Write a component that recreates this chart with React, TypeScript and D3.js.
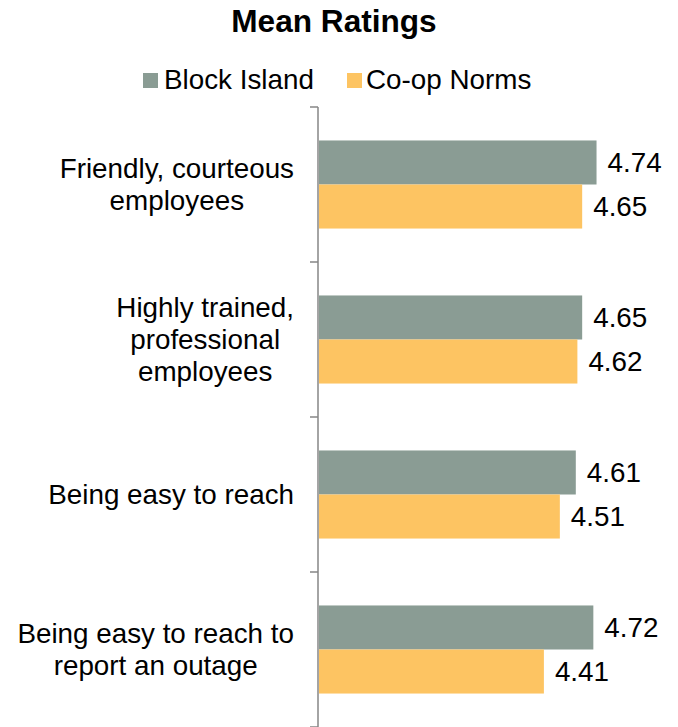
import React from "react";
import * as d3 from "d3";

const title = "Mean Ratings";
const categories = [
  "Friendly, courteous\nemployees",
  "Highly trained,\nprofessional\nemployees",
  "Being easy to reach",
  "Being easy to reach to\nreport an outage",
];
const seriesNames = ["Block Island", "Co-op Norms"];
const blockIsland = [4.74, 4.65, 4.61, 4.72];
const coopNorms = [4.65, 4.62, 4.51, 4.41];
const seriesColors = ["#8A9C94", "#FDC462"];

const W = 678;
const H = 727;
const FONT = "'Liberation Sans', Arial, sans-serif";
const FS = 27.8;

function measure(text: string, font: string): number {
  const c = document.createElement("canvas");
  const ctx = c.getContext("2d");
  if (!ctx) return text.length * FS * 0.5;
  ctx.font = font;
  return ctx.measureText(text).width;
}

export default function App() {
  const axisX = 318;
  const x = d3.scaleLinear().domain([3, 5]).range([319, 638]);
  const y = d3.scaleBand<string>().domain(categories).range([107, 727]).padding(0);
  const inner = d3
    .scaleBand<string>()
    .domain(seriesNames)
    .range([0, y.bandwidth()])
    .paddingInner(0)
    .paddingOuter(0.76);
  const values = [blockIsland, coopNorms];
  const ticks = d3.range(categories.length + 1).map((i) => 107 + i * y.step());
  const labelRight = 294;
  const lineH = 31.8;

  return (
    <svg
      width={W}
      height={H}
      style={{ position: "absolute", left: 0, top: 0, background: "#fff" }}
      fontFamily={FONT}
    >
      <text x={334} y={32} textAnchor="middle" fontSize={31.6} fontWeight="bold" fill="#000">
        {title}
      </text>
      {/* legend */}
      <rect x={143} y={73} width={15} height={15} fill={seriesColors[0]} />
      <text x={164} y={89} fontSize={FS} fill="#000">
        {seriesNames[0]}
      </text>
      <rect x={347} y={73} width={15} height={15} fill={seriesColors[1]} />
      <text x={366} y={89} fontSize={FS} fill="#000">
        {seriesNames[1]}
      </text>

      {/* bars */}
      {categories.map((cat, ci) =>
        seriesNames.map((s, si) => {
          const v = values[si][ci];
          const y0 = (y(cat) as number) + (inner(s) as number);
          const bw = inner.bandwidth();
          return (
            <g key={cat + s}>
              <rect
                x={x(3)}
                y={y0}
                width={x(v) - x(3)}
                height={bw}
                fill={seriesColors[si]}
              />
              <text x={x(v) + 11} y={y0 + bw / 2 + FS * 0.35} fontSize={FS} fill="#000">
                {v.toFixed(2)}
              </text>
            </g>
          );
        })
      )}

      {/* axis */}
      <line x1={axisX} x2={axisX} y1={107} y2={H} stroke="#868686" strokeWidth={1.5} />
      {ticks.map((t) => (
        <line key={t} x1={axisX - 8} x2={axisX} y1={t} y2={t} stroke="#868686" strokeWidth={1.5} />
      ))}

      {/* category labels */}
      {categories.map((cat) => {
        const lines = cat.split("\n");
        const font = `${FS}px ${FONT}`;
        const maxW = Math.max(...lines.map((l) => measure(l, font)));
        const cx = labelRight - maxW / 2;
        const center = (y(cat) as number) + y.bandwidth() / 2;
        const firstBaseline = center - ((lines.length - 1) * lineH) / 2 + FS * 0.35;
        return (
          <text key={cat} textAnchor="middle" fontSize={FS} fill="#000">
            {lines.map((l, i) => (
              <tspan key={i} x={cx} y={firstBaseline + i * lineH}>
                {l}
              </tspan>
            ))}
          </text>
        );
      })}
    </svg>
  );
}
